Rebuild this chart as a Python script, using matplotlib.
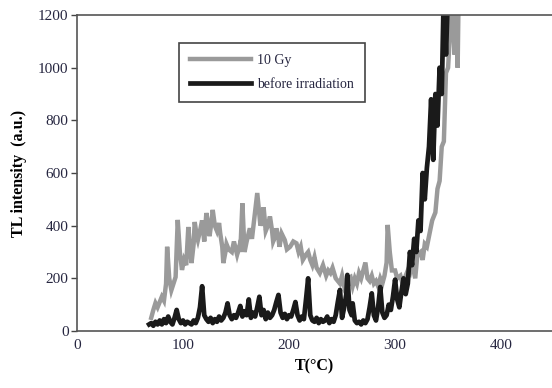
import matplotlib
matplotlib.use("Agg")
import matplotlib.pyplot as plt

# TL glow curves: temperature (deg C) vs TL intensity (a.u.)
t_10gy = [70, 72, 74, 76, 78, 80, 82, 84, 85, 87, 89, 91, 93, 95, 97, 99, 101, 103,
          105, 107, 108, 110, 111, 113, 114, 116, 118, 120, 122, 124, 125, 127, 128,
          130, 132, 134, 135, 137, 138, 140, 141, 143, 146, 148, 151, 153, 154, 156,
          158, 160, 163, 165, 167, 170, 172, 173, 175, 176, 178, 180, 182, 184, 185,
          187, 188, 190, 191, 193, 196, 198, 201, 204, 207, 209, 211, 213, 216, 218,
          220, 222, 224, 226, 229, 232, 235, 237, 239, 241, 244, 246, 248, 250, 252,
          254, 256, 258, 260, 262, 264, 266, 268, 270, 272, 274, 276, 278, 280, 282,
          284, 286, 288, 290, 292, 293, 295, 297, 300, 302, 305, 307, 309, 312, 314,
          316, 319, 321, 324, 326, 328, 330, 333, 335, 338, 340, 342, 344, 346, 348,
          350, 352, 354, 356, 357, 359, 360]
i_10gy = [50, 80, 106, 90, 110, 130, 115, 180, 320, 200, 155, 180, 205, 422, 300, 232,
          270, 250, 395, 300, 258, 330, 414, 360, 345, 380, 420, 340, 448, 400, 360,
          420, 460, 400, 380, 410, 373, 320, 258, 300, 330, 310, 300, 340, 290, 320,
          300, 485, 300, 340, 390, 350, 420, 524, 440, 400, 430, 470, 380, 400, 435,
          380, 340, 360, 390, 350, 320, 370, 345, 310, 320, 340, 333, 300, 320, 270,
          290, 300, 270, 250, 280, 240, 220, 250, 210, 230, 220, 240, 200, 190, 180,
          210, 170, 190, 200, 205, 170, 200, 180, 220, 200, 230, 260, 200, 190, 210,
          180, 190, 170, 200, 180, 210, 260, 403, 300, 230, 230, 200, 210, 180, 200,
          230, 220, 260, 200, 290, 300, 270, 330, 320, 380, 420, 450, 540, 570, 700,
          720, 980, 1000, 1150, 1250, 1050, 1300, 1000, 1300]

t_before = [68, 70, 72, 74, 76, 78, 80, 82, 84, 86, 88, 90, 92, 94, 96, 98, 100, 102,
            104, 106, 108, 110, 112, 114, 116, 118, 120, 122, 124, 126, 128, 130, 132,
            134, 136, 138, 140, 142, 144, 146, 148, 150, 152, 154, 156, 158, 160, 162,
            164, 166, 168, 170, 172, 174, 176, 178, 180, 182, 184, 186, 188, 190, 192,
            194, 196, 198, 200, 202, 204, 206, 208, 210, 212, 214, 216, 218, 220, 222,
            224, 226, 228, 230, 232, 234, 236, 238, 240, 242, 244, 246, 248, 250, 252,
            254, 255, 257, 259, 260, 262, 264, 266, 268, 270, 272, 274, 276, 278, 280,
            282, 284, 286, 288, 290, 292, 294, 296, 298, 300, 302, 304, 306, 308, 310,
            312, 314, 316, 318, 320, 322, 324, 326, 328, 330, 332, 334, 336, 338, 340,
            342, 344, 346, 348, 350]
i_before = [25, 30, 20, 35, 25, 40, 25, 45, 30, 55, 35, 25, 50, 80, 45, 30, 40, 25, 35,
            30, 25, 40, 30, 50, 90, 170, 60, 45, 35, 50, 30, 45, 35, 55, 40, 50, 70,
            105, 60, 45, 60, 50, 70, 95, 55, 75, 60, 120, 50, 70, 55, 90, 130, 60, 80,
            45, 70, 50, 60, 80, 110, 137, 70, 50, 65, 45, 60, 55, 80, 110, 60, 40, 55,
            45, 120, 200, 60, 40, 35, 50, 30, 45, 35, 40, 55, 30, 45, 35, 60, 110, 156,
            50, 90, 140, 213, 80, 60, 105, 40, 30, 35, 25, 40, 30, 45, 90, 143, 60, 40,
            90, 167, 70, 50, 60, 100, 80, 130, 195, 120, 90, 150, 200, 140, 180, 300,
            250, 350, 300, 420, 380, 600, 500, 620, 700, 880, 650, 900, 780, 1000, 900,
            1300, 1050, 1300]

x_ticks = [0, 100, 200, 300, 400]
y_ticks = [0, 200, 400, 600, 800, 1000, 1200]

plt.rcParams["font.family"] = ["Liberation Serif", "DejaVu Serif"]
text_color = "#262640"

fig = plt.figure(figsize=(5.52, 3.88), dpi=100)
ax = fig.add_axes([0.1395, 0.1469, 0.8605, 0.8144])

ax.plot(t_10gy, i_10gy, color="#9a9a9a", lw=3.2, label="10 Gy",
        solid_joinstyle="miter")
ax.plot(t_before, i_before, color="#1a1a1a", lw=3.4, label="before irradiation",
        solid_joinstyle="round")

ax.set_xlim(0, 448)
ax.set_ylim(0, 1200)
ax.set_xticks(x_ticks)
ax.set_yticks(y_ticks)
ax.tick_params(axis="y", direction="out", length=4, width=1, color="#444444",
               labelsize=11, labelcolor=text_color, pad=2)
ax.tick_params(axis="x", length=0, labelsize=11, labelcolor=text_color, pad=6)

for side in ("left", "bottom", "top"):
    ax.spines[side].set_color("#555555")
    ax.spines[side].set_linewidth(1.2)
ax.spines["right"].set_visible(False)

ax.set_xlabel("T(°C)", fontsize=11.5, fontweight="bold", labelpad=4)
ax.set_ylabel("TL intensity  (a.u.)", fontsize=11.5, fontweight="bold", labelpad=8)

leg = ax.legend(loc="upper left", bbox_to_anchor=(0.2147, 0.911), borderaxespad=0,
                fancybox=False, edgecolor="#444444", fontsize=10, handlelength=4.4,
                handletextpad=0.45, borderpad=0.8, labelspacing=0.75, framealpha=1)
leg.get_frame().set_linewidth(1.2)
for txt in leg.get_texts():
    txt.set_color(text_color)

fig.savefig("out.png", dpi=100)
